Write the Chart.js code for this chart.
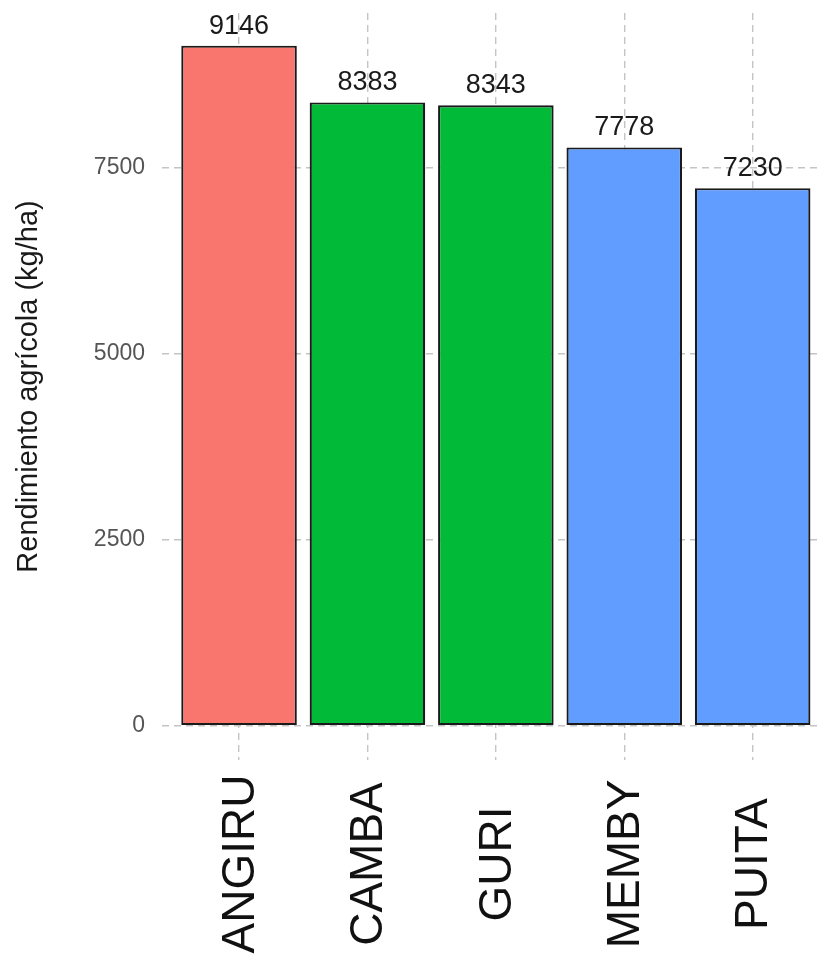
<!DOCTYPE html>
<html>
<head>
<meta charset="utf-8">
<title>Rendimiento agrícola</title>
<script src="https://cdn.jsdelivr.net/npm/chart.js@4.4.1/dist/chart.umd.min.js"></script>
<style>
  html, body { margin: 0; padding: 0; background: #fff; overflow: hidden; }
  #wrap { width: 822px; height: 957px; position: relative; }
</style>
</head>
<body>
<div id="wrap"><canvas id="chart-yield"></canvas></div>
<script>
// chart data
const cultivars = ['ANGIRU', 'CAMBA', 'GURI', 'MEMBY', 'PUITA'];
const yieldKgHa = [9146, 8383, 8343, 7778, 7230];
const groups = ['a', 'b', 'b', 'c', 'c'];
const yTicks = [0, 2500, 5000, 7500];

// ggplot default hue palette for the three groups
const groupColors = { a: '#F8766D', b: '#00BA38', c: '#619CFF' };
const FONT = "'Liberation Sans', Arial, sans-serif";
const gridColor = '#c4c4c4';

// value printed above each bar
const barValueLabels = {
  id: 'barValueLabels',
  afterDatasetsDraw(chart) {
    const { ctx } = chart;
    const meta = chart.getDatasetMeta(0);
    ctx.save();
    ctx.font = '27px ' + FONT;
    ctx.fillStyle = '#1a1a1a';
    ctx.textAlign = 'center';
    ctx.textBaseline = 'alphabetic';
    meta.data.forEach((bar, i) => {
      ctx.fillText(String(yieldKgHa[i]), bar.x, bar.y - 12);
    });
    ctx.restore();
  }
};

// category names, rotated and centred under each bar (Chart.js always right-aligns rotated ticks)
const categoryLabels = {
  id: 'categoryLabels',
  afterDraw(chart) {
    const { ctx } = chart;
    const xScale = chart.scales.x;
    ctx.save();
    ctx.font = '46px ' + FONT;
    ctx.fillStyle = '#111';
    ctx.textAlign = 'center';
    ctx.textBaseline = 'middle';
    cultivars.forEach((name, i) => {
      ctx.save();
      ctx.translate(xScale.getPixelForValue(i) + 2, 864);
      ctx.rotate(-Math.PI / 2);
      ctx.fillText(name, 0, 0);
      ctx.restore();
    });
    ctx.restore();
  }
};

new Chart(document.getElementById('chart-yield'), {
  type: 'bar',
  data: {
    datasets: [{
      data: cultivars.map((c, i) => ({ x: i, y: yieldKgHa[i] })),
      backgroundColor: groups.map(g => groupColors[g]),
      borderColor: '#1a1a1a',
      borderWidth: 2.2,
      borderSkipped: false,
      categoryPercentage: 1,
      barPercentage: 0.9
    }]
  },
  options: {
    responsive: true,
    maintainAspectRatio: false,
    animation: false,
    layout: { padding: { top: 13, bottom: 197, left: 0, right: 0 } },
    plugins: { legend: { display: false }, tooltip: { enabled: false } },
    scales: {
      x: {
        type: 'linear',
        min: -0.6,
        max: 4.54,
        offset: false,
        afterBuildTicks: s => { s.ticks = cultivars.map((c, i) => ({ value: i })); },
        afterFit: s => { s.paddingLeft = 0; s.paddingRight = 0; },
        ticks: { display: false },
        grid: { offset: false, color: gridColor, lineWidth: 1.4, drawTicks: false },
        border: { display: false, dash: [7, 5] }
      },
      y: {
        min: -460,
        max: 9585,
        afterBuildTicks: s => { s.ticks = yTicks.map(v => ({ value: v })); },
        afterFit: s => { s.width = 162; s.paddingTop = 0; s.paddingBottom = 0; },
        ticks: {
          color: '#555',
          padding: 17,
          font: { family: FONT, size: 23 },
          callback: v => String(v)
        },
        grid: { color: gridColor, lineWidth: 1.4, drawTicks: false },
        border: { display: false, dash: [7, 5] },
        title: {
          display: true,
          text: 'Rendimiento agrícola (kg/ha)',
          color: '#1a1a1a',
          font: { family: FONT, size: 29 },
          padding: { top: 12, bottom: 0 }
        }
      }
    }
  },
  plugins: [barValueLabels, categoryLabels]
});
</script>
</body>
</html>
